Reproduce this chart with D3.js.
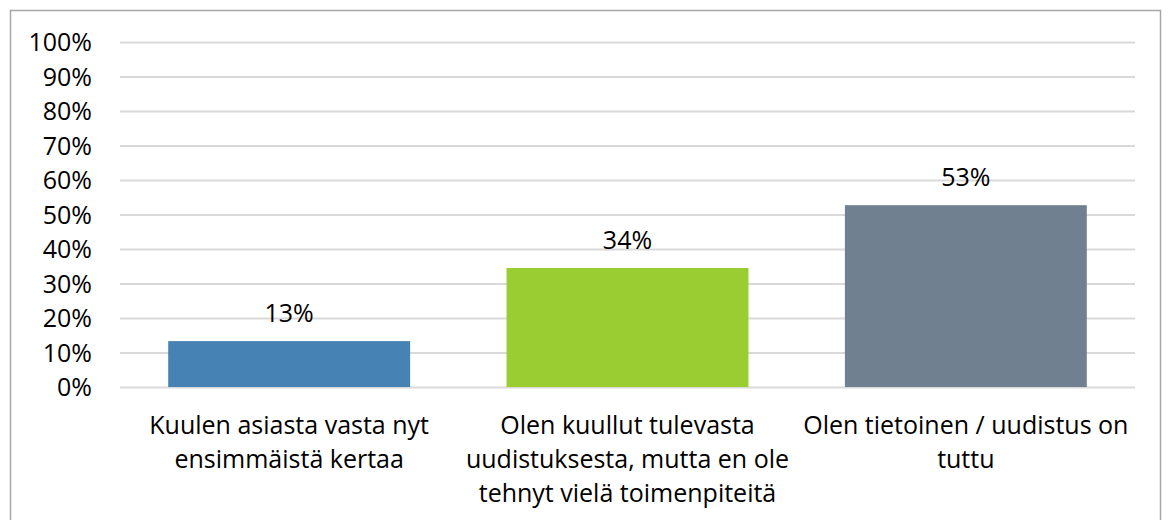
<!DOCTYPE html>
<html><head><meta charset="utf-8">
<script src="https://cdn.jsdelivr.net/npm/d3@7"></script>
<style>body{margin:0;background:#fff;} svg{display:block;font-family:"Open Sans",sans-serif;}</style>
</head><body><svg id="c" width="1171" height="520"></svg>
<script>
const categories = [
  ["Kuulen asiasta vasta nyt", "ensimmäistä kertaa"],
  ["Olen kuullut tulevasta", "uudistuksesta, mutta en ole", "tehnyt vielä toimenpiteitä"],
  ["Olen tietoinen / uudistus on", "tuttu"]
];
const values = [0.133, 0.345, 0.527];
const valueLabels = ["13%", "34%", "53%"];
const colors = ["#4682b4", "#9acd32", "#708090"];
const yTicks = [0, 0.1, 0.2, 0.3, 0.4, 0.5, 0.6, 0.7, 0.8, 0.9, 1.0];

const FS = 25;
const svg = d3.select("#c");
svg.append("rect").attr("x", 10.5).attr("y", 10.5).attr("width", 1150).attr("height", 530)
  .attr("fill", "none").attr("stroke", "#a6a6a6").attr("stroke-width", 1.5);

const mLeft = 120, mRight = 1135, mTop = 42, mBottom = 387;
const x = d3.scaleBand().domain(d3.range(categories.length)).range([mLeft, mRight]).paddingInner(0.285).paddingOuter(0.1425);
const y = d3.scaleLinear().domain([0, 1]).range([mBottom, mTop]);

const yAxis = d3.axisLeft(y).tickValues(yTicks).tickFormat(d3.format(".0%")).tickSize(-(mRight - mLeft)).tickPadding(28);
const gy = svg.append("g").attr("transform", `translate(${mLeft},0)`).call(yAxis);
gy.select(".domain").remove();
gy.selectAll(".tick line").attr("stroke", "#d9d9d9").attr("stroke-width", 2);
gy.selectAll(".tick text").attr("font-size", FS).attr("fill", "#000").attr("font-family", "Open Sans").attr("dy", "0.35em");

svg.append("g").selectAll("text").data(values).join("text")
  .attr("x", (d, i) => x(i) + x.bandwidth() / 2).attr("y", d => y(d) - 19)
  .attr("text-anchor", "middle").attr("font-size", FS).attr("fill", "#000")
  .text((d, i) => valueLabels[i]);

svg.append("g").selectAll("rect").data(values).join("rect")
  .attr("x", (d, i) => x(i)).attr("width", x.bandwidth())
  .attr("y", d => y(d)).attr("height", d => y(0) - y(d))
  .attr("fill", (d, i) => colors[i]);

const gl = svg.append("g");
categories.forEach((lines, i) => {
  const t = gl.append("text").attr("x", x(i) + x.bandwidth() / 2).attr("y", 434)
    .attr("text-anchor", "middle").attr("font-size", FS).attr("fill", "#000");
  lines.forEach((ln, j) => t.append("tspan").attr("x", x(i) + x.bandwidth() / 2).attr("dy", j === 0 ? 0 : 34).text(ln));
});
</script></body></html>
